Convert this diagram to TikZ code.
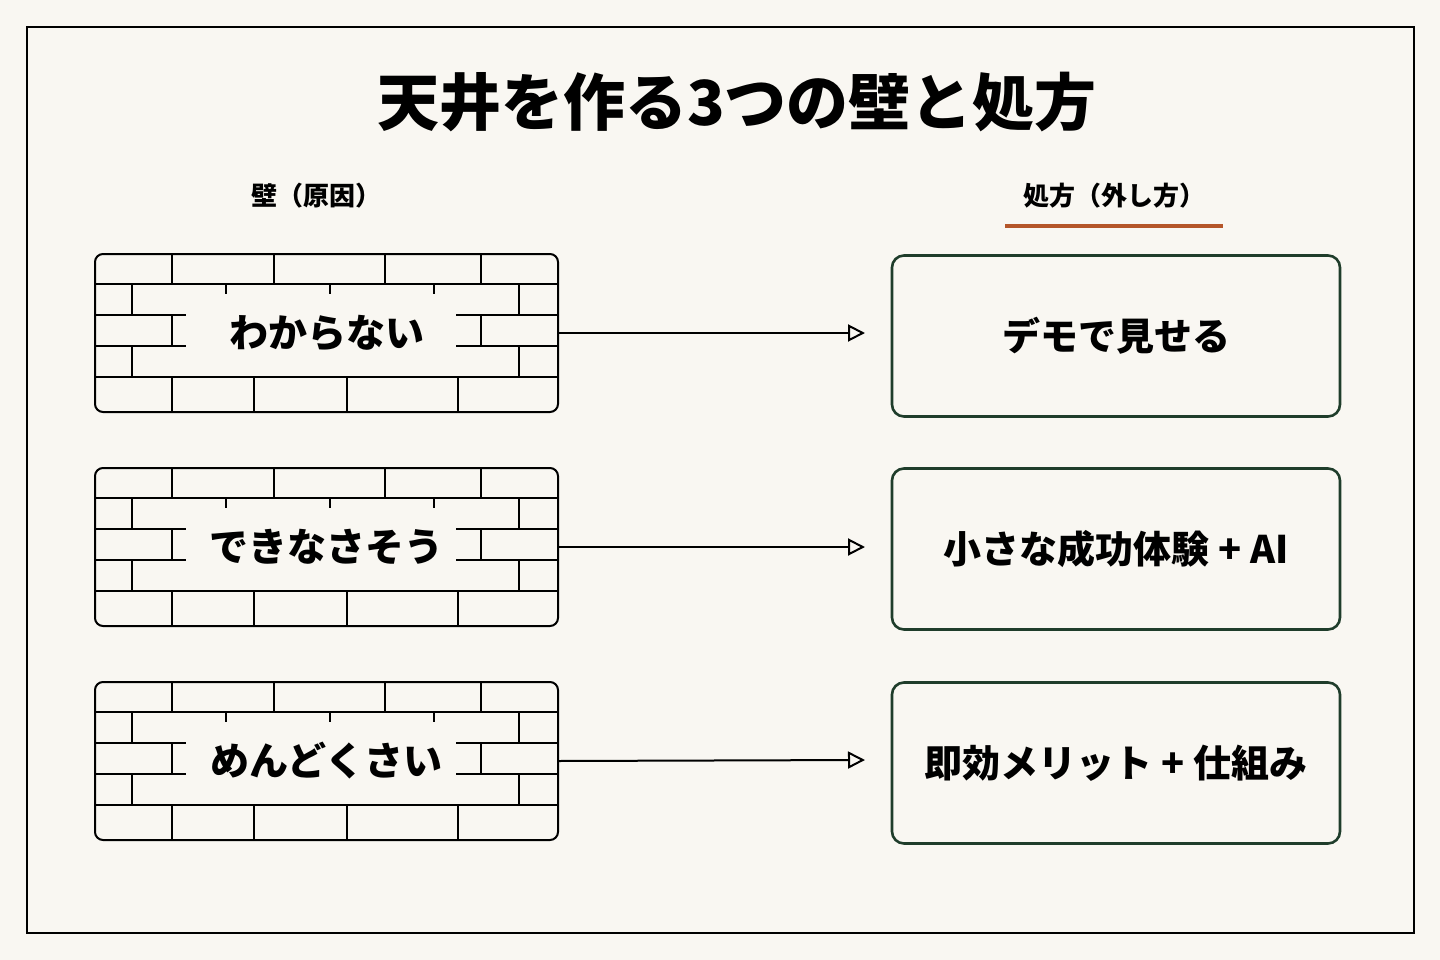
\documentclass[tikz,border=0pt]{standalone}
\usepackage{fontspec}
\newfontfamily\jp{Noto Sans CJK JP}
\usetikzlibrary{arrows.meta}
\definecolor{bg}{HTML}{F9F7F2}
\definecolor{dg}{HTML}{1F3D2B}
\definecolor{rust}{HTML}{B5562A}
\tikzset{
  wall/.style={draw=black,line width=2pt,rounded corners=8pt,minimum width=463pt,minimum height=158pt,inner sep=0pt,font=\jp\bfseries\fontsize{39}{39}\selectfont},
  cure/.style={draw=dg,line width=2.6pt,rounded corners=12pt,minimum width=448pt,minimum height=161pt,inner sep=0pt,font=\jp\bfseries\fontsize{38}{38}\selectfont},
  head/.style={font=\jp\bfseries\fontsize{26}{26}\selectfont},
  brick/.style={line width=1.6pt},
  conn/.style={line width=2pt,-{Triangle[open,length=17pt,width=17pt]}},
}
\newcommand\mybricks[1]{%
\begin{scope}[shift={(#1.north west)},brick]
 \draw (0,31)--(463,31) (0,124)--(463,124);
 \draw (0,62)--(92,62) (362,62)--(463,62) (0,93)--(92,93) (362,93)--(463,93);
 \foreach \x in {78,180,291,387}{\draw (\x,0)--(\x,31);}
 \foreach \x in {38,425}{\draw (\x,31)--(\x,62) (\x,93)--(\x,124);}
 \foreach \x in {132,236,340}{\draw (\x,31)--(\x,41);}
 \foreach \x in {78,387}{\draw (\x,62)--(\x,93);}
 \foreach \x in {78,160,253,364}{\draw (\x,124)--(\x,158);}
\end{scope}}
\begin{document}
\begin{tikzpicture}[x=1pt,y=-1pt]
\fill[bg] (0,0) rectangle (1440,960);
\useasboundingbox (0,0) rectangle (1440,960);
\draw[line width=2pt] (27,27) rectangle (1414,933);
\node[font=\jp\bfseries\fontsize{62}{62}\selectfont] (title) at (737,102) {天井を作る3つの壁と処方};
\node[head] (lh) at (316,196) {壁（原因）};
\node[head] (rh) at (1114,196) {処方（外し方）};
\draw[rust,line width=3.5pt] (1005,226)--(1223,226);
\node[wall] (w1) at (326.5,333) {わからない};
\node[wall] (w2) at (326.5,547) {できなさそう};
\node[wall] (w3) at (326.5,761) {めんどくさい};
\mybricks{w1}\mybricks{w2}\mybricks{w3}
\node[cure] (c1) at (1116,336) {デモで見せる};
\node[cure] (c2) at (1116,549) {小さな成功体験 + AI};
\node[cure] (c3) at (1116,763) {即効メリット + 仕組み};
\draw[conn] (w1.east)--(865,333);
\draw[conn] (w2.east)--(865,547);
\draw[conn] (w3.east)--(865,760);
\end{tikzpicture}
\end{document}
